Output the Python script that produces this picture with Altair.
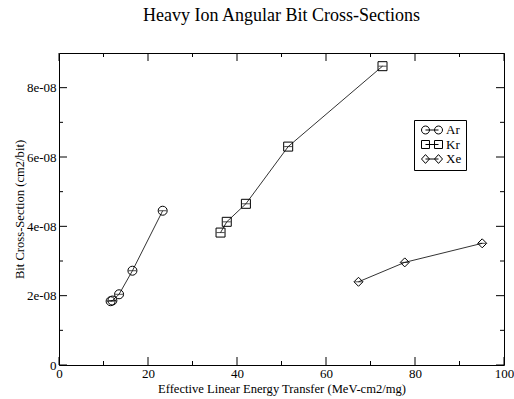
import altair as alt
import pandas as pd

# Measured cross-sections for each ion species
ar_let = [11.6, 12.0, 13.5, 16.5, 23.3]
ar_xs = [1.84e-8, 1.86e-8, 2.04e-8, 2.72e-8, 4.45e-8]
kr_let = [36.3, 37.7, 42.0, 51.5, 72.7]
kr_xs = [3.82e-8, 4.13e-8, 4.65e-8, 6.30e-8, 8.62e-8]
xe_let = [67.3, 77.7, 95.1]
xe_xs = [2.40e-8, 2.96e-8, 3.51e-8]

ions = ["Ar", "Kr", "Xe"]
x_major = [0, 20, 40, 60, 80, 100]
x_minor = [10, 30, 50, 70, 90]
y_major = [0, 2e-8, 4e-8, 6e-8, 8e-8]
y_minor = [1e-8, 3e-8, 5e-8, 7e-8]

rows = []
for ion, xs, ys in zip(ions, [ar_let, kr_let, xe_let], [ar_xs, kr_xs, xe_xs]):
    for i, (a, b) in enumerate(zip(xs, ys)):
        rows.append({"ion": ion, "idx": i, "let": a, "xs": b})
df = pd.DataFrame(rows)

W, H = 445, 312
FONT = "Liberation Serif"

xscale = alt.Scale(domain=[0, 100], nice=False, zero=False)
yscale = alt.Scale(domain=[0, 9e-8], nice=False, zero=False)

axis_style = dict(
    grid=False, domain=False, ticks=False, labelFlush=False, labelOverlap=False,
    labelFont=FONT, labelFontSize=13, labelColor="black",
    titleFont=FONT, titleFontSize=12.6, titleColor="black", titleFontWeight="normal",
)

x_enc = alt.X(
    "let:Q", scale=xscale,
    title="Effective Linear Energy Transfer (MeV-cm2/mg)",
    axis=alt.Axis(values=x_major, labelPadding=2, titlePadding=2, format="d", **axis_style),
)
y_enc = alt.Y(
    "xs:Q", scale=yscale,
    title="Bit Cross-Section (cm2/bit)",
    axis=alt.Axis(values=y_major, labelPadding=3, titlePadding=0,
                  labelExpr="datum.value == 0 ? '0' : replace(format(datum.value, '.0e'), 'e-', 'e-0')",
                  **axis_style),
)

base = alt.Chart(df)

lines = base.mark_line(color="#333333", strokeWidth=1).encode(
    x=x_enc, y=y_enc, detail="ion:N", order="idx:Q"
)

points = base.mark_point(filled=False, color="black", size=81, strokeWidth=1, opacity=1).encode(
    x="let:Q", y="xs:Q",
    shape=alt.Shape("ion:N", scale=alt.Scale(domain=ions, range=["circle", "square", "diamond"]),
                    legend=None),
)

bars = base.mark_tick(orient="horizontal", color="black", size=8, thickness=1).encode(
    x="let:Q", y="xs:Q"
)

# Legend entries: marker - line - marker glyphs
leg_paths = [
    "M-1,0A0.38,0.38 0 1,1 -0.24,0A0.38,0.38 0 1,1 -1,0Z"
    "M0.24,0A0.38,0.38 0 1,1 1,0A0.38,0.38 0 1,1 0.24,0Z"
    "M-0.62,0H0.62",
    "M-1,-0.38H-0.24V0.38H-1Z M0.24,-0.38H1V0.38H0.24Z M-0.62,0H0.62",
    "M-1,0L-0.62,-0.42L-0.24,0L-0.62,0.42Z M0.24,0L0.62,-0.42L1,0L0.62,0.42Z M-0.62,0H0.62",
]
legend_layer = base.transform_filter("false").mark_point(
    filled=False, color="black", strokeWidth=1, opacity=1
).encode(
    x="let:Q", y="xs:Q",
    shape=alt.Shape(
        "ion:N", title=None,
        scale=alt.Scale(domain=ions, range=leg_paths),
        legend=alt.Legend(
            orient="none", legendX=355, legendY=67,
            strokeColor="black", fillColor="white", padding=4,
            symbolSize=441, symbolStrokeColor="black", symbolFillColor="transparent",
            symbolStrokeWidth=1, symbolOffset=3,
            labelFont=FONT, labelFontSize=13, labelColor="black", labelOffset=3,
            clipHeight=12, rowPadding=1.5,
        ),
    ),
)

def tick_layer(vals, channel, length):
    d = pd.DataFrame({"v": vals})
    c = alt.Chart(d).mark_rule(color="black", strokeWidth=1)
    if channel == "x":
        return [
            c.encode(x=alt.X("v:Q", scale=xscale), y=alt.value(H), y2=alt.value(H - length)),
            c.encode(x=alt.X("v:Q", scale=xscale), y=alt.value(0), y2=alt.value(length)),
        ]
    return [
        c.encode(y=alt.Y("v:Q", scale=yscale), x=alt.value(0), x2=alt.value(length)),
        c.encode(y=alt.Y("v:Q", scale=yscale), x=alt.value(W), x2=alt.value(W - length)),
    ]

ticks = (tick_layer(x_major, "x", 8) + tick_layer(x_minor, "x", 4)
         + tick_layer(y_major, "y", 8) + tick_layer(y_minor, "y", 4))

chart = alt.layer(lines, points, bars, legend_layer, *ticks).resolve_scale(
    shape="independent"
).properties(
    width=W, height=H,
    title=alt.TitleParams("Heavy Ion Angular Bit Cross-Sections", font=FONT, fontSize=18,
                          fontWeight="normal", color="black", anchor="middle", offset=28),
    autosize=alt.AutoSizeParams(type="none"),
    padding={"left": 59, "top": 53, "right": 10, "bottom": 34},
).configure_view(
    stroke="black", strokeWidth=1
)

chart.save("out.html", embed_options={"renderer": "svg", "actions": False})
